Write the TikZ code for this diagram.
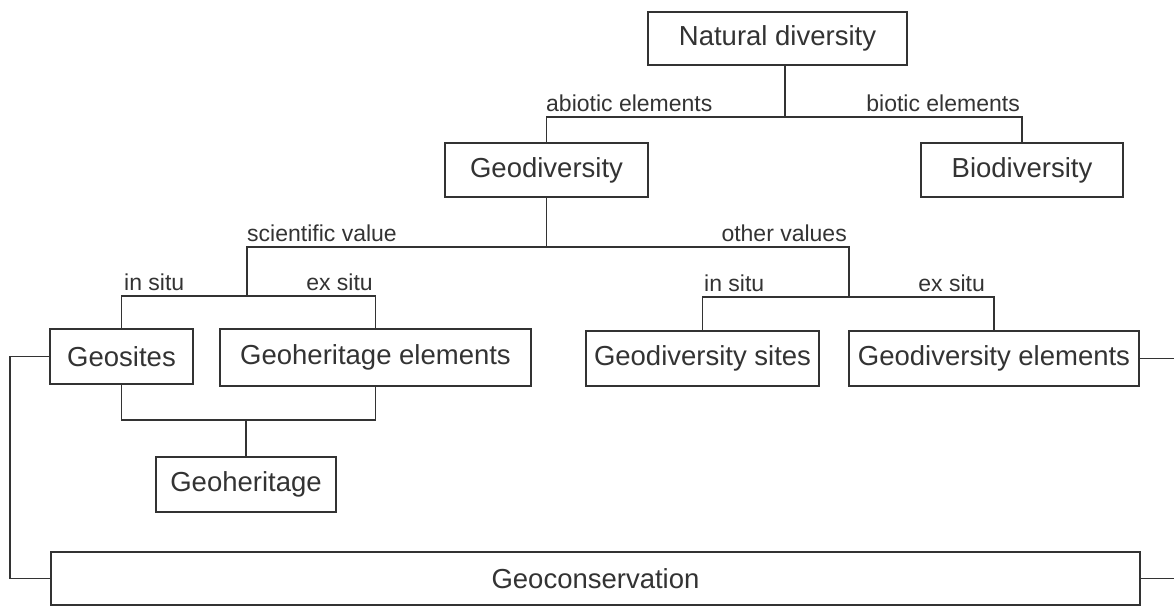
\documentclass[tikz,border=0pt]{standalone}
\usepackage{fontspec}
\setmainfont{Liberation Sans}
\definecolor{ink}{HTML}{333333}
\begin{document}
\begin{tikzpicture}[x=1pt,y=-1pt,
  box/.style={draw=ink, line width=1.6pt, text=ink, inner sep=0pt, font=\fontsize{27.5}{30}\selectfont},
  lbl/.style={text=ink, inner sep=0pt, font=\fontsize{23}{26}\selectfont},
  conn/.style={draw=ink, line width=1.6pt}]
\useasboundingbox (0,0) rectangle (1174,607);
% boxes
\node[box, minimum width=259pt, minimum height=53pt] (nat) at (777.5,38.5) {Natural diversity};
\node[box, minimum width=203pt, minimum height=54pt] (geo) at (546.5,170) {Geodiversity};
\node[box, minimum width=202pt, minimum height=54pt] (bio) at (1022,170) {Biodiversity};
\node[box, minimum width=143pt, minimum height=55pt] (gsites) at (121.5,356.5) {Geosites};
\node[box, minimum width=311pt, minimum height=57pt] (gheel) at (375.5,357.5) {Geoheritage elements};
\node[box, minimum width=180pt, minimum height=55pt] (gher) at (246,484.5) {Geoheritage};
\node[box, minimum width=233pt, minimum height=55pt] (gdsites) at (702.5,358.5) {Geodiversity sites};
\node[box, minimum width=290pt, minimum height=55pt] (gdel) at (994,358.5) {Geodiversity elements};
\node[box, minimum width=1089pt, minimum height=53pt] (gcons) at (595.5,578.5) {Geoconservation};
% junctions
\coordinate (j1) at (785,117);
\coordinate (h2) at (547,247);
\coordinate (j3) at (247,296);
\coordinate (j4) at (849,297);
\coordinate (j5) at (246,420);
\coordinate (lft) at (10,0);
\coordinate (rgt) at (1176,0);
% connectors
\draw[conn] (nat.south -| j1) -- (j1);
\draw[conn] (geo.north) |- (j1) -| (bio.north);
\draw[conn] (geo.south) -- (geo.south |- h2);
\draw[conn] (j3) |- (h2) -| (j4);
\draw[conn] (gsites.north) |- (j3) -| (gheel.north);
\draw[conn] (gdsites.north) |- (j4) -| (gdel.north);
\draw[conn] (gsites.south) |- (j5) -| (gheel.south);
\draw[conn] (j5) -- (gher.north);
\draw[conn] (gsites.west) -- (gsites.west -| lft) |- (gcons.west);
\draw[conn] (gdel.east) -- (gdel.east -| rgt);
\draw[conn] (gcons.east) -- (gcons.east -| rgt);
% labels
\node[lbl, anchor=base west] (l1) at (546,111) {abiotic elements};
\node[lbl, anchor=base east] (l2) at (1020,111) {biotic elements};
\node[lbl, anchor=base west] (l3) at (247,241) {scientific value};
\node[lbl, anchor=base east] (l4) at (847,241) {other values};
\node[lbl, anchor=base west] (l5) at (124,290) {in situ};
\node[lbl, anchor=base east] (l6) at (373,290) {ex situ};
\node[lbl, anchor=base west] (l7) at (704,291) {in situ};
\node[lbl, anchor=base east] (l8) at (985,291) {ex situ};
\end{tikzpicture}
\end{document}
